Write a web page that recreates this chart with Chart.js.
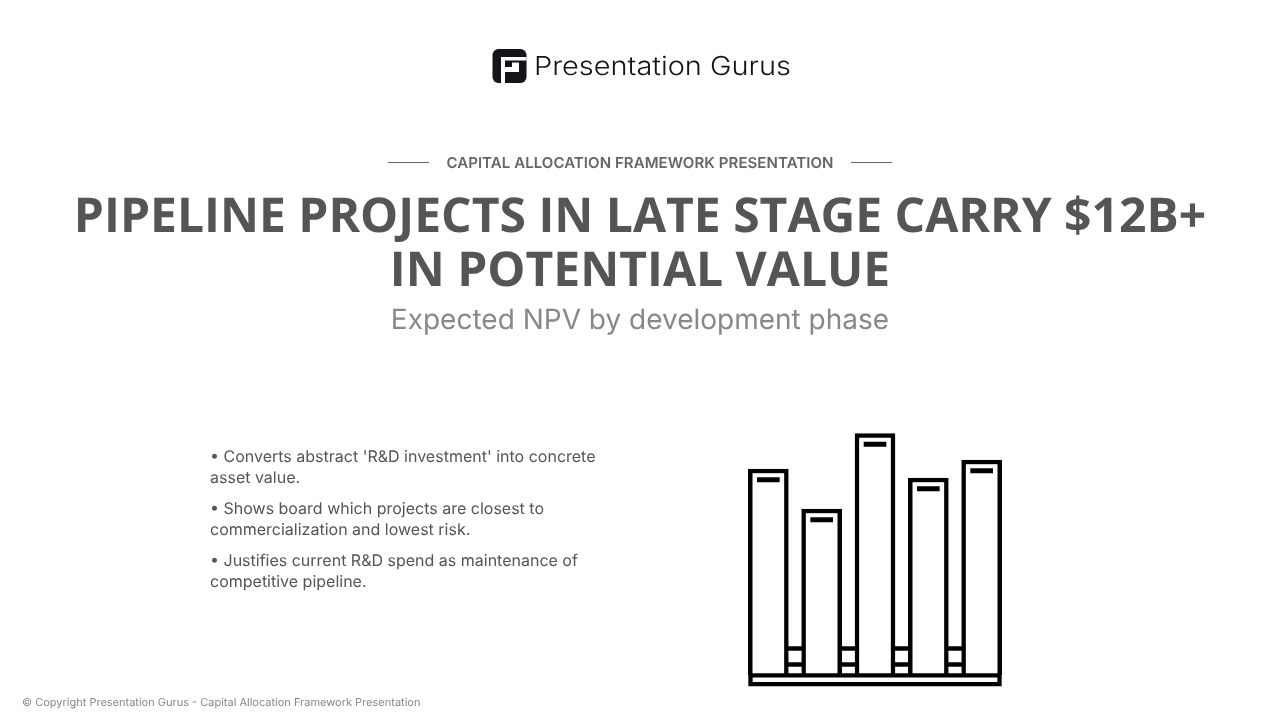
<!DOCTYPE html>
<html>
<head>
<meta charset="utf-8">
<title>Pipeline projects</title>
<script src="https://cdn.jsdelivr.net/npm/chart.js@4"></script>
<style>
  html, body { margin: 0; padding: 0; background: #fff; }
  body { position: relative; width: 1280px; height: 720px; overflow: hidden; font-family: Inter, sans-serif; text-rendering: geometricPrecision; }
  #page { position: absolute; left: 0; top: 0; width: 1280px; height: 720px; will-change: opacity; opacity: 0.999; }
  .abs { position: absolute; white-space: nowrap; }
  #logo { position: absolute; left: 488px; top: 45px; }
  .eyebrow { left: 0; width: 1280px; top: 153px; text-align: center; font-size: 15px; line-height: 20px; font-weight: 600; color: #666; letter-spacing: 0.07px; }
  .rule { position: absolute; top: 162px; height: 1px; width: 41px; background: #666; }
  h1 { position: absolute; left: 0; top: 188px; width: 1280px; margin: 0; text-align: center; font-family: "Open Sans", sans-serif; font-weight: 700; font-size: 48px; line-height: 54px; color: #555; }
  .sub { left: 0; width: 1280px; top: 301px; text-align: center; font-size: 28px; line-height: 36px; color: #888; }
  .bullets { position: absolute; left: 210px; top: 446px; width: 400px; font-size: 16px; line-height: 21px; color: #555; }
  .bullets p { margin: 0 0 10px 0; }
  .foot { left: 22px; top: 695px; font-size: 11px; line-height: 14px; color: #888; }
  #chartBox { position: absolute; left: 741px; top: 425px; width: 268px; height: 270px; }
</style>
</head>
<body>
<div id="page">

<svg id="logo" width="310" height="42" viewBox="0 0 310 42">
  <rect x="4.5" y="4" width="34" height="34" rx="6" fill="#14151a"/>
  <path d="M13 38 V12 H38.5 V15.5 H17 V38 Z" fill="#fff"/>
  <path d="M24 17.5 H31 V27 H17 V22 H24 Z" fill="#fff"/>
  <text x="46" y="30" font-family="Inter" font-weight="350" font-size="26" fill="#14151a" textLength="257" lengthAdjust="spacingAndGlyphs">Presentation Gurus</text>
</svg>

<div class="abs eyebrow">CAPITAL ALLOCATION FRAMEWORK PRESENTATION</div>
<div class="rule" style="left:388px"></div>
<div class="rule" style="left:851px"></div>
<h1>PIPELINE PROJECTS IN LATE STAGE CARRY $12B+<br>IN POTENTIAL VALUE</h1>
<div class="abs sub">Expected NPV by development phase</div>

<div class="bullets">
  <p>• Converts abstract 'R&amp;D investment' into concrete asset value.</p>
  <p>• Shows board which projects are closest to commercialization and lowest risk.</p>
  <p>• Justifies current R&amp;D spend as maintenance of competitive pipeline.</p>
</div>

<div id="chartBox"><canvas id="npvChart" width="268" height="270"></canvas></div>

<div class="abs foot">© Copyright Presentation Gurus - Capital Allocation Framework Presentation</div>

</div>
<script>
/* icon-style bar chart, no axes shown; values are read off the picture in px units above the base */
const phases = ['A', 'B', 'C', 'D', 'E'];
const barValues = [206, 166, 241.5, 197, 215];
const capLow = [193, 153, 228.5, 184, 202];
const capHigh = [197.5, 157.5, 233, 188.5, 206.5];
const rungUpper = [26.5, 26.5, 26.5, 26.5, 26.5];
const rungLower = [10.5, 10.5, 10.5, 10.5, 10.5];
const plateTop = 1.7;
const plateBottom = -11.3;
const INK = '#000';

/* base plate under the bars, edges taken from the first and last bar */
const basePlate = {
    id: 'basePlate',
    afterDatasetsDraw(chart) {
        const bars = chart.getDatasetMeta(0).data;
        const y = chart.scales.y;
        const left = bars[0].x - bars[0].width / 2;
        const right = bars[bars.length - 1].x + bars[bars.length - 1].width / 2;
        const top = y.getPixelForValue(plateTop);
        const bottom = y.getPixelForValue(plateBottom);
        const ctx = chart.ctx;
        ctx.save();
        ctx.fillStyle = '#fff';
        ctx.strokeStyle = INK;
        ctx.lineWidth = 4.3;
        ctx.beginPath();
        ctx.rect(left + 2.15, top + 2.15, right - left - 4.3, bottom - top - 4.3);
        ctx.fill();
        ctx.stroke();
        ctx.restore();
    }
};

new Chart(document.getElementById('npvChart'), {
    data: {
        labels: phases,
        datasets: [
            { type: 'bar', data: barValues, backgroundColor: '#fff', borderColor: INK, borderWidth: 4.5, barThickness: 40, grouped: false, order: 2 },
            { type: 'bar', data: phases.map((p, i) => [capLow[i], capHigh[i]]), backgroundColor: INK, barThickness: 22, grouped: false, order: 1 },
            { type: 'line', data: rungUpper, borderColor: INK, borderWidth: 4.3, pointRadius: 0, order: 3 },
            { type: 'line', data: rungLower, borderColor: INK, borderWidth: 4.3, pointRadius: 0, order: 3 }
        ]
    },
    options: {
        responsive: false,
        animation: false,
        devicePixelRatio: 1,
        layout: { padding: { left: 0.67, right: 0.67, top: 0, bottom: 0 } },
        plugins: { legend: { display: false }, tooltip: { enabled: false }, title: { display: false } },
        scales: {
            x: { display: false, offset: true },
            y: { display: false, min: -20, max: 250 }
        }
    },
    plugins: [basePlate]
});
</script>
</body>
</html>
